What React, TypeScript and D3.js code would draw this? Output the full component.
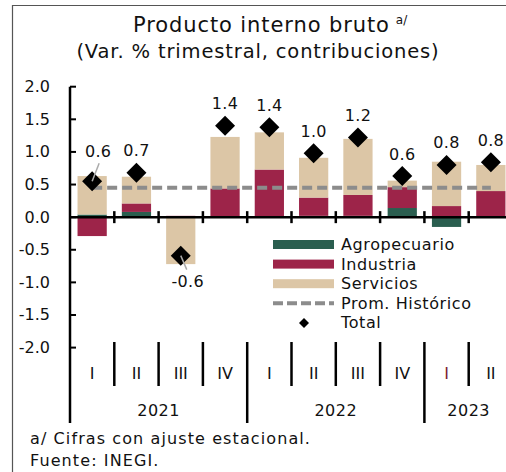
import React from "react";
import * as d3 from "d3";

const quarters = ["I", "II", "III", "IV", "I", "II", "III", "IV", "I", "II"];
const years = ["2021", "2022", "2023"];
const yearOfQuarter = [0, 0, 0, 0, 1, 1, 1, 1, 2, 2];
const agropecuario = [0.04, 0.08, 0.0, 0.0, 0.0, 0.02, 0.02, 0.14, -0.15, 0.0];
const industria = [-0.29, 0.13, 0.02, 0.44, 0.73, 0.28, 0.32, 0.32, 0.17, 0.4];
const servicios = [0.59, 0.41, -0.72, 0.79, 0.57, 0.61, 0.86, 0.1, 0.68, 0.4];
const total = [0.55, 0.68, -0.59, 1.4, 1.38, 0.98, 1.22, 0.63, 0.8, 0.84];
const totalLabels = ["0.6", "0.7", "-0.6", "1.4", "1.4", "1.0", "1.2", "0.6", "0.8", "0.8"];
const promHistorico = 0.45;
const yTicks = [2.0, 1.5, 1.0, 0.5, 0.0, -0.5, -1.0, -1.5, -2.0];

const seriesNames = ["Agropecuario", "Industria", "Servicios"];
const colors: Record<string, string> = {
  Agropecuario: "#2a5e4f",
  Industria: "#9d2449",
  Servicios: "#dcc6a6",
};

const FONT = "'DejaVu Sans', sans-serif";

export default function App() {
  const width = 506;
  const height = 472;
  const x0 = 70;
  const x1 = 513;
  const zeroLabelTop = 342;

  const x = d3
    .scaleBand<number>()
    .domain(d3.range(quarters.length))
    .range([x0, x1])
    .paddingInner(0.34)
    .paddingOuter(0.17);
  const y = d3.scaleLinear().domain([-2, 2]).range([347.6, 86.7]);
  const step = x.step();
  const left = (i: number) => x0 + i * step;

  const rows = quarters.map((_, i) => ({
    i,
    Agropecuario: agropecuario[i],
    Industria: industria[i],
    Servicios: servicios[i],
  }));
  const stacked = d3
    .stack<any>()
    .keys(seriesNames)
    .offset(d3.stackOffsetDiverging)(rows);

  const cx = (i: number) => (x(i) as number) + x.bandwidth() / 2;
  const diamond = (px: number, py: number, r: number) =>
    `M${px},${py - r}L${px + r},${py}L${px},${py + r}L${px - r},${py}Z`;

  const legendX = 273;
  const legendY = 244.5;
  const legendGap = 19.6;

  return (
    <svg
      width={width}
      height={height}
      style={{ position: "absolute", left: 0, top: 0, background: "#fff" }}
      fontFamily={FONT}
    >
      <rect width={width} height={height} fill="#fff" />
      <path d={`M12.5,${height}V5.5H${width}`} fill="none" stroke="#555" strokeWidth={1.2} />

      {/* título */}
      <text x={133} y={25} dominantBaseline="central" fontSize={21} letterSpacing={0.9} fill="#111">
        Producto interno bruto
        <tspan dx={6} dy={-5} fontSize={12} letterSpacing={0}>
          a/
        </tspan>
      </text>
      <text
        x={258}
        y={51}
        textAnchor="middle"
        dominantBaseline="central"
        fontSize={19.5}
        letterSpacing={0.85}
        fill="#111"
      >
        (Var. % trimestral, contribuciones)
      </text>

      {/* barras */}
      {stacked.map((s) => (
        <g key={s.key} fill={colors[s.key]}>
          {s.map((d, i) => (
            <rect
              key={i}
              x={x(i)}
              y={y(d[1])}
              width={x.bandwidth()}
              height={Math.max(0, y(d[0]) - y(d[1]))}
            />
          ))}
        </g>
      ))}

      {/* eje y */}
      <line x1={x0} x2={x0} y1={y(2)} y2={423} stroke="#000" strokeWidth={2.5} />
      {yTicks.map((t) => (
        <g key={t}>
          <line x1={x0} x2={x0 + 6} y1={y(t)} y2={y(t)} stroke="#000" strokeWidth={2} />
          <text
            x={50}
            y={y(t)}
            textAnchor="end"
            dominantBaseline="central"
            fontSize={16}
            fill="#111"
          >
            {t.toFixed(1)}
          </text>
        </g>
      ))}

      {/* eje x en cero */}
      <line x1={x0} x2={width} y1={y(0)} y2={y(0)} stroke="#000" strokeWidth={2.5} />
      {quarters.map((_, i) =>
        i === 0 ? null : (
          <line
            key={i}
            x1={left(i)}
            x2={left(i)}
            y1={y(0) - 6}
            y2={y(0) + 6}
            stroke="#000"
            strokeWidth={2.5}
          />
        )
      )}

      {/* promedio histórico */}
      <line
        x1={cx(0)}
        x2={cx(quarters.length - 1)}
        y1={y(promHistorico)}
        y2={y(promHistorico)}
        stroke="#8c8c8c"
        strokeWidth={4}
        strokeDasharray="10,5"
      />

      {/* total */}
      {total.map((v, i) => {
        const px = cx(i);
        const py = y(v);
        let lx = px;
        let ly = py - 22;
        let leader: [number, number, number, number] | null = null;
        if (i === 0) {
          lx = px + 6;
          ly = py - 30;
          leader = [px, py, px + 7, py - 18];
        } else if (v < 0) {
          lx = px + 7;
          ly = py + 26;
          leader = [px, py, px + 6, py + 14];
        }
        return (
          <g key={i}>
            <path d={diamond(px, py, 10)} fill="#000" />
            {leader && (
              <line
                x1={leader[0]}
                y1={leader[1]}
                x2={leader[2]}
                y2={leader[3]}
                stroke="#aaa"
                strokeWidth={1.5}
              />
            )}
            <text
              x={lx}
              y={ly}
              textAnchor="middle"
              dominantBaseline="central"
              fontSize={16}
              letterSpacing={0.3}
              fill="#111"
            >
              {totalLabels[i]}
            </text>
          </g>
        );
      })}

      {/* leyenda */}
      <g fontSize={16} letterSpacing={0.6} fill="#111">
        {seriesNames.map((n, k) => (
          <g key={n}>
            <rect
              x={legendX}
              y={legendY + k * legendGap - 4.5}
              width={61}
              height={9}
              fill={colors[n]}
            />
            <text x={341} y={legendY + k * legendGap} dominantBaseline="central">
              {n}
            </text>
          </g>
        ))}
        <line
          x1={legendX}
          x2={legendX + 61}
          y1={legendY + 3 * legendGap}
          y2={legendY + 3 * legendGap}
          stroke="#8c8c8c"
          strokeWidth={4}
          strokeDasharray="10,4"
        />
        <text x={341} y={legendY + 3 * legendGap} dominantBaseline="central">
          Prom. Histórico
        </text>
        <path d={diamond(legendX + 31, legendY + 4 * legendGap, 5)} fill="#000" />
        <text x={341} y={legendY + 4 * legendGap} dominantBaseline="central">
          Total
        </text>
      </g>

      {/* etiquetas de categorías */}
      {quarters.map((q, i) => {
        const newYear = i > 0 && yearOfQuarter[i] !== yearOfQuarter[i - 1];
        return (
          <g key={i}>
            {i > 0 && (
              <line
                x1={left(i)}
                x2={left(i)}
                y1={zeroLabelTop}
                y2={newYear ? 423 : 386}
                stroke="#000"
                strokeWidth={2.5}
              />
            )}
            <text
              x={left(i) + step / 2}
              y={373.5}
              textAnchor="middle"
              dominantBaseline="central"
              fontSize={16}
              fill={i === 8 ? "#7a1a33" : "#111"}
            >
              {q}
            </text>
          </g>
        );
      })}
      {years.map((yr, k) => {
        const idx = yearOfQuarter.map((v, i) => (v === k ? i : -1)).filter((i) => i >= 0);
        const a = left(idx[0]);
        const b = left(idx[idx.length - 1] + 1);
        return (
          <text
            key={yr}
            x={(a + b) / 2}
            y={410}
            textAnchor="middle"
            dominantBaseline="central"
            fontSize={16}
            letterSpacing={0.5}
            fill="#111"
          >
            {yr}
          </text>
        );
      })}

      {/* notas */}
      <g fontSize={16} letterSpacing={1.1} fill="#111">
        <text x={30} y={438.5} dominantBaseline="central">
          a/ Cifras con ajuste estacional.
        </text>
        <text x={30} y={460.5} dominantBaseline="central">
          Fuente: INEGI.
        </text>
      </g>
    </svg>
  );
}
